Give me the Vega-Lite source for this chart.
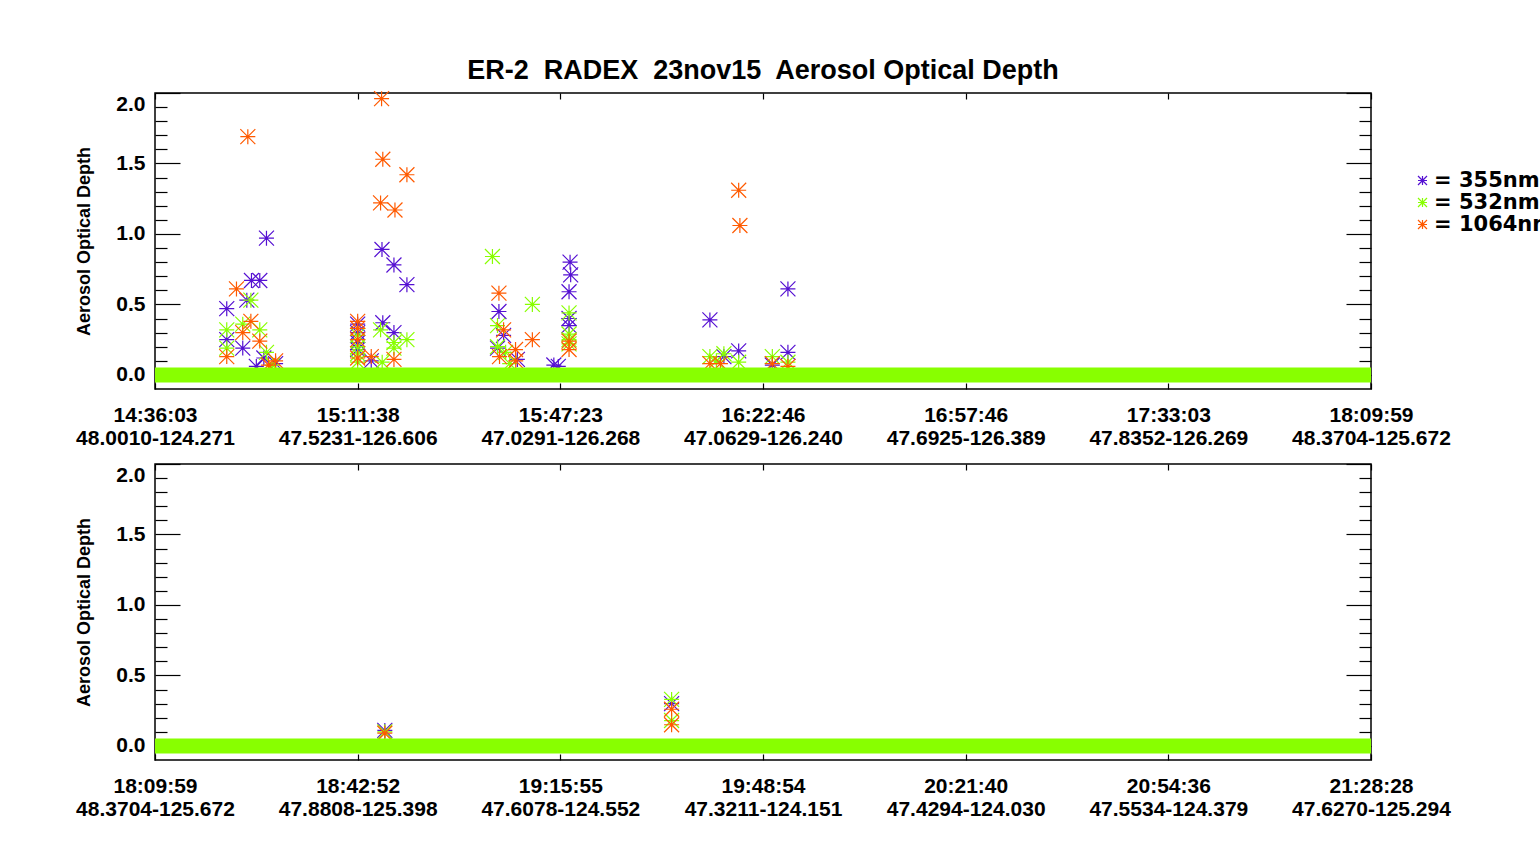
{
  "$schema": "https://vega.github.io/schema/vega-lite/v6.json",
  "padding": {"left": 74, "top": 55, "right": 0, "bottom": 0},
  "background": "white",
  "datasets": {
    "stars": [
      {"panel": 1, "series": "355nm", "pos": 0.354, "aod": 0.47},
      {"panel": 1, "series": "355nm", "pos": 0.354, "aod": 0.25},
      {"panel": 1, "series": "355nm", "pos": 0.433, "aod": 0.19},
      {"panel": 1, "series": "355nm", "pos": 0.453, "aod": 0.53},
      {"panel": 1, "series": "355nm", "pos": 0.476, "aod": 0.67},
      {"panel": 1, "series": "355nm", "pos": 0.517, "aod": 0.67},
      {"panel": 1, "series": "355nm", "pos": 0.55, "aod": 0.97},
      {"panel": 1, "series": "355nm", "pos": 0.537, "aod": 0.12},
      {"panel": 1, "series": "355nm", "pos": 0.595, "aod": 0.08},
      {"panel": 1, "series": "355nm", "pos": 0.5, "aod": 0.06},
      {"panel": 1, "series": "355nm", "pos": 1.0, "aod": 0.36},
      {"panel": 1, "series": "355nm", "pos": 1.0, "aod": 0.3},
      {"panel": 1, "series": "355nm", "pos": 1.0, "aod": 0.23},
      {"panel": 1, "series": "355nm", "pos": 1.0, "aod": 0.18},
      {"panel": 1, "series": "355nm", "pos": 1.12, "aod": 0.89},
      {"panel": 1, "series": "355nm", "pos": 1.179, "aod": 0.78},
      {"panel": 1, "series": "355nm", "pos": 1.243, "aod": 0.64},
      {"panel": 1, "series": "355nm", "pos": 1.124, "aod": 0.37},
      {"panel": 1, "series": "355nm", "pos": 1.179, "aod": 0.3},
      {"panel": 1, "series": "355nm", "pos": 1.067, "aod": 0.1},
      {"panel": 1, "series": "355nm", "pos": 1.697, "aod": 0.45},
      {"panel": 1, "series": "355nm", "pos": 1.72, "aod": 0.28},
      {"panel": 1, "series": "355nm", "pos": 1.69, "aod": 0.19},
      {"panel": 1, "series": "355nm", "pos": 1.788, "aod": 0.11},
      {"panel": 1, "series": "355nm", "pos": 1.968, "aod": 0.07},
      {"panel": 1, "series": "355nm", "pos": 1.99, "aod": 0.06},
      {"panel": 1, "series": "355nm", "pos": 2.048, "aod": 0.8},
      {"panel": 1, "series": "355nm", "pos": 2.051, "aod": 0.71},
      {"panel": 1, "series": "355nm", "pos": 2.043, "aod": 0.59},
      {"panel": 1, "series": "355nm", "pos": 2.043, "aod": 0.4},
      {"panel": 1, "series": "355nm", "pos": 2.043, "aod": 0.35},
      {"panel": 1, "series": "355nm", "pos": 2.738, "aod": 0.39},
      {"panel": 1, "series": "355nm", "pos": 2.88, "aod": 0.17},
      {"panel": 1, "series": "355nm", "pos": 3.123, "aod": 0.61},
      {"panel": 1, "series": "355nm", "pos": 3.123, "aod": 0.16},
      {"panel": 1, "series": "355nm", "pos": 2.807, "aod": 0.13},
      {"panel": 1, "series": "355nm", "pos": 3.046, "aod": 0.07},
      {"panel": 1, "series": "532nm", "pos": 0.354, "aod": 0.32},
      {"panel": 1, "series": "532nm", "pos": 0.354, "aod": 0.19},
      {"panel": 1, "series": "532nm", "pos": 0.433, "aod": 0.36},
      {"panel": 1, "series": "532nm", "pos": 0.473, "aod": 0.53},
      {"panel": 1, "series": "532nm", "pos": 0.517, "aod": 0.32},
      {"panel": 1, "series": "532nm", "pos": 0.55, "aod": 0.16},
      {"panel": 1, "series": "532nm", "pos": 0.58, "aod": 0.07},
      {"panel": 1, "series": "532nm", "pos": 1.0, "aod": 0.28},
      {"panel": 1, "series": "532nm", "pos": 1.0, "aod": 0.2},
      {"panel": 1, "series": "532nm", "pos": 1.0, "aod": 0.15},
      {"panel": 1, "series": "532nm", "pos": 1.0, "aod": 0.09},
      {"panel": 1, "series": "532nm", "pos": 1.113, "aod": 0.32},
      {"panel": 1, "series": "532nm", "pos": 1.243, "aod": 0.25},
      {"panel": 1, "series": "532nm", "pos": 1.179, "aod": 0.23},
      {"panel": 1, "series": "532nm", "pos": 1.179, "aod": 0.19},
      {"panel": 1, "series": "532nm", "pos": 1.121, "aod": 0.09},
      {"panel": 1, "series": "532nm", "pos": 1.665, "aod": 0.84},
      {"panel": 1, "series": "532nm", "pos": 1.862, "aod": 0.5},
      {"panel": 1, "series": "532nm", "pos": 1.69, "aod": 0.35},
      {"panel": 1, "series": "532nm", "pos": 1.69, "aod": 0.2},
      {"panel": 1, "series": "532nm", "pos": 1.73, "aod": 0.16},
      {"panel": 1, "series": "532nm", "pos": 1.75, "aod": 0.08},
      {"panel": 1, "series": "532nm", "pos": 2.043, "aod": 0.44},
      {"panel": 1, "series": "532nm", "pos": 2.043, "aod": 0.29},
      {"panel": 1, "series": "532nm", "pos": 2.043, "aod": 0.25},
      {"panel": 1, "series": "532nm", "pos": 2.043, "aod": 0.22},
      {"panel": 1, "series": "532nm", "pos": 2.738, "aod": 0.13},
      {"panel": 1, "series": "532nm", "pos": 2.77, "aod": 0.1},
      {"panel": 1, "series": "532nm", "pos": 2.807, "aod": 0.15},
      {"panel": 1, "series": "532nm", "pos": 2.88, "aod": 0.09},
      {"panel": 1, "series": "532nm", "pos": 3.046, "aod": 0.13},
      {"panel": 1, "series": "532nm", "pos": 3.123, "aod": 0.09},
      {"panel": 1, "series": "1064nm", "pos": 0.458, "aod": 1.69},
      {"panel": 1, "series": "1064nm", "pos": 0.402, "aod": 0.61},
      {"panel": 1, "series": "1064nm", "pos": 0.473, "aod": 0.38},
      {"panel": 1, "series": "1064nm", "pos": 0.433, "aod": 0.3},
      {"panel": 1, "series": "1064nm", "pos": 0.517, "aod": 0.24},
      {"panel": 1, "series": "1064nm", "pos": 0.354, "aod": 0.13},
      {"panel": 1, "series": "1064nm", "pos": 0.595, "aod": 0.1},
      {"panel": 1, "series": "1064nm", "pos": 0.56, "aod": 0.07},
      {"panel": 1, "series": "1064nm", "pos": 1.0, "aod": 0.38},
      {"panel": 1, "series": "1064nm", "pos": 1.0, "aod": 0.33},
      {"panel": 1, "series": "1064nm", "pos": 1.0, "aod": 0.25},
      {"panel": 1, "series": "1064nm", "pos": 1.0, "aod": 0.12},
      {"panel": 1, "series": "1064nm", "pos": 1.118, "aod": 1.96},
      {"panel": 1, "series": "1064nm", "pos": 1.124, "aod": 1.53},
      {"panel": 1, "series": "1064nm", "pos": 1.243, "aod": 1.42},
      {"panel": 1, "series": "1064nm", "pos": 1.113, "aod": 1.22},
      {"panel": 1, "series": "1064nm", "pos": 1.184, "aod": 1.17},
      {"panel": 1, "series": "1064nm", "pos": 1.179, "aod": 0.11},
      {"panel": 1, "series": "1064nm", "pos": 1.067, "aod": 0.13},
      {"panel": 1, "series": "1064nm", "pos": 1.697, "aod": 0.58},
      {"panel": 1, "series": "1064nm", "pos": 1.862, "aod": 0.25},
      {"panel": 1, "series": "1064nm", "pos": 1.72, "aod": 0.32},
      {"panel": 1, "series": "1064nm", "pos": 1.7, "aod": 0.13},
      {"panel": 1, "series": "1064nm", "pos": 1.779, "aod": 0.18},
      {"panel": 1, "series": "1064nm", "pos": 1.78, "aod": 0.1},
      {"panel": 1, "series": "1064nm", "pos": 2.043, "aod": 0.24},
      {"panel": 1, "series": "1064nm", "pos": 2.043, "aod": 0.18},
      {"panel": 1, "series": "1064nm", "pos": 2.88, "aod": 1.31},
      {"panel": 1, "series": "1064nm", "pos": 2.886, "aod": 1.06},
      {"panel": 1, "series": "1064nm", "pos": 2.738, "aod": 0.08},
      {"panel": 1, "series": "1064nm", "pos": 2.79, "aod": 0.08},
      {"panel": 1, "series": "1064nm", "pos": 3.046, "aod": 0.08},
      {"panel": 1, "series": "1064nm", "pos": 3.123, "aod": 0.06},
      {"panel": 2, "series": "355nm", "pos": 1.134, "aod": 0.11},
      {"panel": 2, "series": "355nm", "pos": 2.549, "aod": 0.3},
      {"panel": 2, "series": "532nm", "pos": 1.134, "aod": 0.1},
      {"panel": 2, "series": "532nm", "pos": 2.549, "aod": 0.33},
      {"panel": 2, "series": "532nm", "pos": 2.549, "aod": 0.18},
      {"panel": 2, "series": "1064nm", "pos": 1.134, "aod": 0.09},
      {"panel": 2, "series": "1064nm", "pos": 2.549, "aod": 0.26},
      {"panel": 2, "series": "1064nm", "pos": 2.549, "aod": 0.15}
    ],
    "band": [
      {"panel": 1, "start": 0, "end": 6, "aod": 0},
      {"panel": 2, "start": 0, "end": 6, "aod": 0}
    ]
  },
  "spacing": 75,
  "bounds": "flush",
  "vconcat": [
    {
      "width": 1216,
      "height": 296,
      "title": {"text": "ER-2\u00a0 RADEX\u00a0 23nov15\u00a0 Aerosol Optical Depth", "anchor": "middle", "frame": "group", "offset": 4},
      "layer": [
        {
          "data": {"name": "stars"},
          "transform": [{"filter": "datum.panel == 1 && datum.series == '355nm'"}],
          "mark": {"type": "point", "shape": "M-1,0L1,0M0,-1L0,1M-1,-1L1,1M-1,1L1,-1", "filled": false, "size": 225, "strokeWidth": 1.2, "opacity": 1},
          "encoding": {
            "x": {"field": "pos", "type": "quantitative", "scale": {"domain": [0, 6], "nice": false, "zero": false},
              "axis": {"orient": "bottom", "values": [0, 1, 2, 3, 4, 5, 6], "tickSize": -6, "labelPadding": 21, "labelLineHeight": 23, "labelFlush": false, "labelOverlap": false, "labelBound": false, "title": null,
                "labelExpr": "[['14:36:03','15:11:38','15:47:23','16:22:46','16:57:46','17:33:03','18:09:59'][datum.value], ['48.0010-124.271','47.5231-126.606','47.0291-126.268','47.0629-126.240','47.6925-126.389','47.8352-126.269','48.3704-125.672'][datum.value]]"}},
            "y": {"field": "aod", "type": "quantitative", "scale": {"domain": [-0.1, 2.0], "nice": false, "zero": false},
              "axis": {"orient": "left", "values": [0, 0.5, 1, 1.5, 2], "format": ".1f", "tickSize": -25, "labelPadding": 35, "labelFlush": true, "title": "Aerosol Optical Depth", "titlePadding": 22}},
            "color": {"field": "series", "type": "nominal", "title": null, "scale": {"domain": ["355nm", "532nm", "1064nm"], "range": ["#5510d2", "#88ff00", "#ff5a00"]},
              "legend": {"labelExpr": "'= ' + datum.label"}}
          }
        },
        {
          "data": {"name": "stars"},
          "transform": [{"filter": "datum.panel == 1 && datum.series == '532nm'"}],
          "mark": {"type": "point", "shape": "M-1,0L1,0M0,-1L0,1M-1,-1L1,1M-1,1L1,-1", "filled": false, "size": 225, "strokeWidth": 1.2, "opacity": 1},
          "encoding": {
            "x": {"field": "pos", "type": "quantitative", "axis": {"orient": "top", "values": [0, 1, 2, 3, 4, 5, 6], "tickSize": -6, "labels": false, "title": null}},
            "y": {"field": "aod", "type": "quantitative", "axis": {"orient": "left", "values": [0.1, 0.2, 0.3, 0.4, 0.6, 0.7, 0.8, 0.9, 1.1, 1.2, 1.3, 1.4, 1.6, 1.7, 1.8, 1.9], "tickSize": -12, "labels": false, "title": null}},
            "color": {"field": "series", "type": "nominal", "title": null, "legend": {"labelExpr": "'= ' + datum.label"}}
          }
        },
        {
          "data": {"name": "stars"},
          "transform": [{"filter": "datum.panel == 1 && datum.series == '1064nm'"}],
          "mark": {"type": "point", "shape": "M-1,0L1,0M0,-1L0,1M-1,-1L1,1M-1,1L1,-1", "filled": false, "size": 225, "strokeWidth": 1.2, "opacity": 1},
          "encoding": {
            "x": {"field": "pos", "type": "quantitative", "axis": null},
            "y": {"field": "aod", "type": "quantitative", "axis": {"orient": "right", "values": [0, 0.5, 1, 1.5, 2], "tickSize": -25, "labels": false, "title": null}},
            "color": {"field": "series", "type": "nominal", "title": null, "legend": {"labelExpr": "'= ' + datum.label"}}
          }
        },
        {
          "data": {"name": "band"},
          "transform": [{"filter": "datum.panel == 1"}],
          "mark": {"type": "rule", "color": "#88ff00", "strokeWidth": 15, "strokeCap": "butt"},
          "encoding": {
            "x": {"field": "start", "type": "quantitative", "axis": null},
            "x2": {"field": "end"},
            "y": {"field": "aod", "type": "quantitative", "axis": {"orient": "right", "values": [0.1, 0.2, 0.3, 0.4, 0.6, 0.7, 0.8, 0.9, 1.1, 1.2, 1.3, 1.4, 1.6, 1.7, 1.8, 1.9], "tickSize": -12, "labels": false, "title": null}}
          }
        }
      ],
      "resolve": {"axis": {"x": "independent", "y": "independent"}}
    },
    {
      "width": 1216,
      "height": 296,
      "layer": [
        {
          "data": {"name": "stars"},
          "transform": [{"filter": "datum.panel == 2 && datum.series == '355nm'"}],
          "mark": {"type": "point", "shape": "M-1,0L1,0M0,-1L0,1M-1,-1L1,1M-1,1L1,-1", "filled": false, "size": 225, "strokeWidth": 1.2, "opacity": 1},
          "encoding": {
            "x": {"field": "pos", "type": "quantitative", "scale": {"domain": [0, 6], "nice": false, "zero": false},
              "axis": {"orient": "bottom", "values": [0, 1, 2, 3, 4, 5, 6], "tickSize": -6, "labelPadding": 21, "labelLineHeight": 23, "labelFlush": false, "labelOverlap": false, "labelBound": false, "title": null,
                "labelExpr": "[['18:09:59','18:42:52','19:15:55','19:48:54','20:21:40','20:54:36','21:28:28'][datum.value], ['48.3704-125.672','47.8808-125.398','47.6078-124.552','47.3211-124.151','47.4294-124.030','47.5534-124.379','47.6270-125.294'][datum.value]]"}},
            "y": {"field": "aod", "type": "quantitative", "scale": {"domain": [-0.1, 2.0], "nice": false, "zero": false},
              "axis": {"orient": "left", "values": [0, 0.5, 1, 1.5, 2], "format": ".1f", "tickSize": -25, "labelPadding": 35, "labelFlush": true, "title": "Aerosol Optical Depth", "titlePadding": 22}},
            "color": {"field": "series", "type": "nominal", "title": null, "scale": {"domain": ["355nm", "532nm", "1064nm"], "range": ["#5510d2", "#88ff00", "#ff5a00"]},
              "legend": {"labelExpr": "'= ' + datum.label"}}
          }
        },
        {
          "data": {"name": "stars"},
          "transform": [{"filter": "datum.panel == 2 && datum.series == '532nm'"}],
          "mark": {"type": "point", "shape": "M-1,0L1,0M0,-1L0,1M-1,-1L1,1M-1,1L1,-1", "filled": false, "size": 225, "strokeWidth": 1.2, "opacity": 1},
          "encoding": {
            "x": {"field": "pos", "type": "quantitative", "axis": {"orient": "top", "values": [0, 1, 2, 3, 4, 5, 6], "tickSize": -6, "labels": false, "title": null}},
            "y": {"field": "aod", "type": "quantitative", "axis": {"orient": "left", "values": [0.1, 0.2, 0.3, 0.4, 0.6, 0.7, 0.8, 0.9, 1.1, 1.2, 1.3, 1.4, 1.6, 1.7, 1.8, 1.9], "tickSize": -12, "labels": false, "title": null}},
            "color": {"field": "series", "type": "nominal", "title": null, "legend": {"labelExpr": "'= ' + datum.label"}}
          }
        },
        {
          "data": {"name": "stars"},
          "transform": [{"filter": "datum.panel == 2 && datum.series == '1064nm'"}],
          "mark": {"type": "point", "shape": "M-1,0L1,0M0,-1L0,1M-1,-1L1,1M-1,1L1,-1", "filled": false, "size": 225, "strokeWidth": 1.2, "opacity": 1},
          "encoding": {
            "x": {"field": "pos", "type": "quantitative", "axis": null},
            "y": {"field": "aod", "type": "quantitative", "axis": {"orient": "right", "values": [0, 0.5, 1, 1.5, 2], "tickSize": -25, "labels": false, "title": null}},
            "color": {"field": "series", "type": "nominal", "title": null, "legend": {"labelExpr": "'= ' + datum.label"}}
          }
        },
        {
          "data": {"name": "band"},
          "transform": [{"filter": "datum.panel == 2"}],
          "mark": {"type": "rule", "color": "#88ff00", "strokeWidth": 15, "strokeCap": "butt"},
          "encoding": {
            "x": {"field": "start", "type": "quantitative", "axis": null},
            "x2": {"field": "end"},
            "y": {"field": "aod", "type": "quantitative", "axis": {"orient": "right", "values": [0.1, 0.2, 0.3, 0.4, 0.6, 0.7, 0.8, 0.9, 1.1, 1.2, 1.3, 1.4, 1.6, 1.7, 1.8, 1.9], "tickSize": -12, "labels": false, "title": null}}
          }
        }
      ],
      "resolve": {"axis": {"x": "independent", "y": "independent"}}
    }
  ],
  "config": {
    "font": "Liberation Sans",
    "view": {"stroke": "black", "strokeWidth": 1.5},
    "title": {"font": "Liberation Sans", "fontSize": 27, "fontWeight": "bold", "color": "black"},
    "axis": {
      "grid": false,
      "domain": false,
      "ticks": true,
      "tickColor": "black",
      "tickWidth": 1.2,
      "labelFont": "Liberation Sans",
      "labelFontSize": 21,
      "labelFontWeight": "bold",
      "labelColor": "black",
      "titleFont": "Liberation Sans",
      "titleFontSize": 18,
      "titleFontWeight": "bold",
      "titleColor": "black"
    },
    "legend": {
      "orient": "none",
      "legendX": 1257,
      "legendY": 77,
      "padding": 0,
      "rowPadding": 0,
      "symbolType": "M-1,0L1,0M0,-1L0,1M-1,-1L1,1M-1,1L1,-1",
      "symbolSize": 81,
      "symbolStrokeWidth": 1.2,
      "labelFont": "DejaVu Sans",
      "labelFontSize": 21,
      "labelFontWeight": "bold",
      "labelColor": "black",
      "labelOffset": 1,
      "labelLimit": 0
    }
  }
}
